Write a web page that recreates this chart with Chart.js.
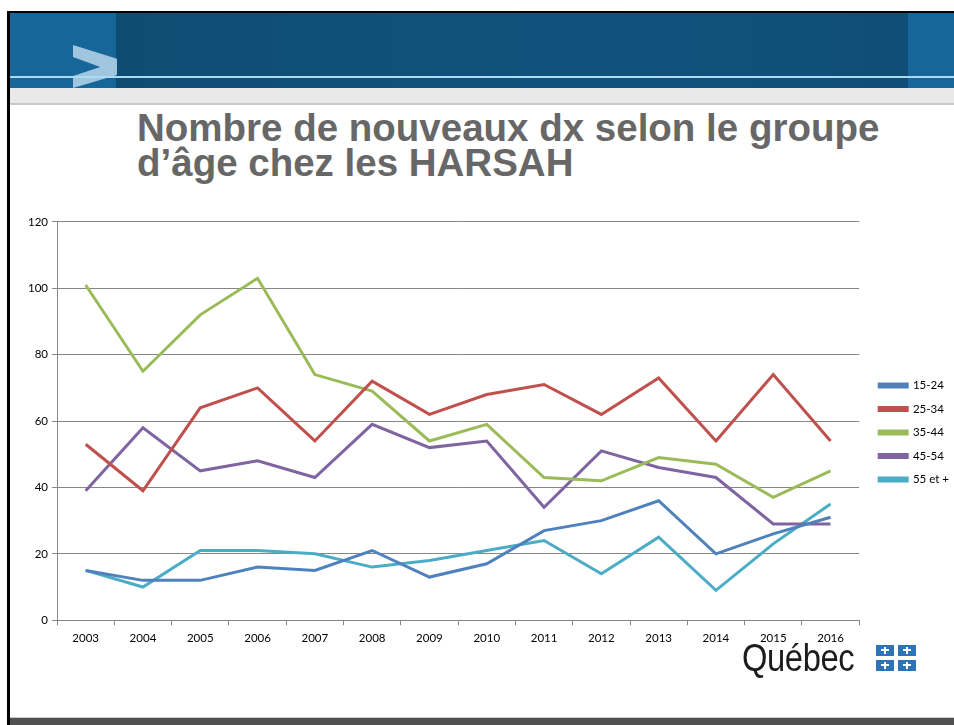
<!DOCTYPE html>
<html lang="fr">
<head>
    <meta charset="UTF-8">
    <title>Nombre de nouveaux dx selon le groupe d'âge chez les HARSAH</title>
    <script src="https://cdn.jsdelivr.net/npm/chart.js"></script>
    <style>
        body { margin: 0; width: 954px; height: 725px; position: relative; overflow: hidden; background: #fff; font-family: "Liberation Sans", Arial, sans-serif; }
        .frameTop { position: absolute; left: 7px; top: 11px; width: 947px; height: 2px; background: #000; }
        .frameLeft { position: absolute; left: 7px; top: 11px; width: 3px; height: 714px; background: #000; }
        .band { position: absolute; left: 10px; top: 13px; width: 944px; height: 75px; background: linear-gradient(90deg, #0e4b72, #11527c 60%, #0f4d76); }
        .bandL { position: absolute; left: 10px; top: 13px; width: 106px; height: 75px; background: #16669a; }
        .bandR { position: absolute; left: 908px; top: 13px; width: 46px; height: 75px; background: #16669a; }
        .chev { position: absolute; left: 73px; top: 45px; width: 44px; height: 43px; background: rgba(185, 215, 235, 0.85);
                clip-path: polygon(0 0, 100% 32%, 100% 70%, 0 100%, 0 72%, 62% 51%, 0 28%); }
        .hline { position: absolute; left: 10px; top: 76px; width: 944px; height: 2px; background: #a9dcf3; }
        .stripe { position: absolute; left: 10px; top: 88px; width: 944px; height: 15px; background: #e9e9e9; border-bottom: 2px solid #c9c9c9; }
        h1 { position: absolute; left: 137px; top: 110px; margin: 0; font: bold 38.5px "Liberation Sans", Arial, sans-serif; line-height: 35px; color: #676767; white-space: nowrap; }
        .foot { position: absolute; left: 10px; top: 717px; width: 944px; height: 8px; background: #505050; border-top: 1px solid #ccc; }
        .logo { position: absolute; left: 742px; top: 636px; font: 39px "Liberation Sans", Arial, sans-serif; color: #1c1c1c; transform: scaleX(0.84); transform-origin: left top; letter-spacing: -0.5px; }
        .flag { position: absolute; left: 876px; top: 645px; width: 42px; height: 27px; }
        .flag span { position: absolute; width: 18px; height: 11px; background: #2c73b8; }
        .flag span::before { content: ""; position: absolute; left: 8px; top: 2px; width: 2px; height: 7px; background: #fff; }
        .flag span::after { content: ""; position: absolute; left: 5px; top: 4px; width: 8px; height: 2px; background: #fff; }
        #wrap { position: absolute; left: 10px; top: 211px; width: 944px; height: 450px; }
    </style>
</head>
<body>
    <div class="frameTop"></div>
    <div class="band"></div>
    <div class="bandL"></div>
    <div class="bandR"></div>
    <div class="chev"></div>
    <div class="hline"></div>
    <div class="stripe"></div>
    <div class="frameLeft"></div>
    <h1>Nombre de nouveaux dx selon le groupe<br>d’âge chez les HARSAH</h1>
    <div id="wrap"><canvas id="myChart"></canvas></div>
    <div class="logo">Québec</div>
    <div class="flag">
        <span style="left:0;top:0"></span><span style="left:22px;top:0"></span>
        <span style="left:0;top:15px"></span><span style="left:22px;top:15px"></span>
    </div>
    <div class="foot"></div>

    <script>
        const years = ['2003', '2004', '2005', '2006', '2007', '2008', '2009', '2010', '2011', '2012', '2013', '2014', '2015', '2016'];
        const age15to24 = [15, 12, 12, 16, 15, 21, 13, 17, 27, 30, 36, 20, 26, 31];
        const age25to34 = [53, 39, 64, 70, 54, 72, 62, 68, 71, 62, 73, 54, 74, 54];
        const age35to44 = [101, 75, 92, 103, 74, 69, 54, 59, 43, 42, 49, 47, 37, 45];
        const age45to54 = [39, 58, 45, 48, 43, 59, 52, 54, 34, 51, 46, 43, 29, 29];
        const age55plus = [15, 10, 21, 21, 20, 16, 18, 21, 24, 14, 25, 9, 23, 35];

        const seriesNames = ['15-24', '25-34', '35-44', '45-54', '55 et +'];
        const seriesData = [age15to24, age25to34, age35to44, age45to54, age55plus];
        const colors = ['#4f81bd', '#c0504d', '#9bbb59', '#8064a2', '#4bacc6'];

        const ctx = document.getElementById('myChart').getContext('2d');
        const tickFont = { family: 'Lato, "Open Sans", sans-serif', size: 11.5 };

        // nudge the legend a bit away from the plot, like the Excel original
        const legendNudge = {
            id: 'legendNudge',
            afterLayout(chart) {
                chart.legend.left += 8;
                chart.legend.top -= 7;
            }
        };

        new Chart(ctx, {
            type: 'line',
            data: {
                labels: years,
                datasets: seriesNames.map((name, i) => ({
                    label: name,
                    data: seriesData[i],
                    borderColor: colors[i],
                    backgroundColor: colors[i],
                    borderWidth: 3,
                    pointRadius: 0,
                    tension: 0,
                    fill: false
                }))
            },
            options: {
                responsive: true,
                maintainAspectRatio: false,
                animation: false,
                layout: { padding: { left: 14, top: 10, right: 3, bottom: 10 } },
                plugins: {
                    tooltip: { enabled: false },
                    legend: {
                        position: 'right',
                        labels: {
                            boxWidth: 28,
                            boxHeight: 3,
                            padding: 12,
                            color: '#000',
                            font: tickFont
                        }
                    }
                },
                scales: {
                    x: {
                        offset: true,
                        grid: { offset: true, drawOnChartArea: false, tickLength: 5, color: '#868686' },
                        border: { color: '#868686' },
                        ticks: { color: '#000', font: tickFont, maxRotation: 0, padding: 6 }
                    },
                    y: {
                        min: 0,
                        max: 120,
                        ticks: { stepSize: 20, color: '#000', font: tickFont, padding: 4 },
                        grid: { color: '#868686', tickLength: 5 },
                        border: { color: '#868686' }
                    }
                }
            },
            plugins: [legendNudge]
        });
    </script>
</body>
</html>
